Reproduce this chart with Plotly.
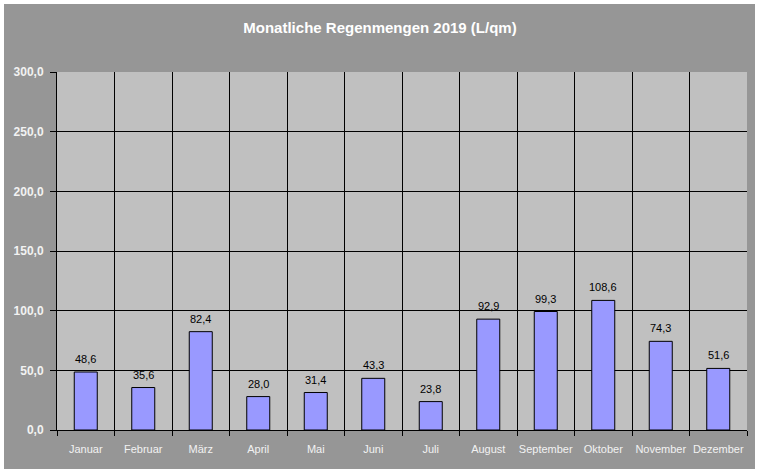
import plotly.graph_objects as go

months = ["Januar", "Februar", "März", "April", "Mai", "Juni", "Juli",
          "August", "September", "Oktober", "November", "Dezember"]
rain = [48.6, 35.6, 82.4, 28.0, 31.4, 43.3, 23.8, 92.9, 99.3, 108.6, 74.3, 51.6]
y_ticks = [0, 50, 100, 150, 200, 250, 300]
title_text = "Monatliche Regenmengen 2019 (L/qm)"

W, H = 760, 473
L, R, T, B = 57, 13, 72, 43
pw, ph = W - L - R, H - T - B

def px_x(x):
    return (x - L) / pw

def px_y(y):
    return (H - B - y) / ph

fig = go.Figure(go.Bar(
    x=months, y=rain, width=0.4,
    marker=dict(color="#9999FF", line=dict(color="black", width=1)),
    cliponaxis=False,
))

annotations = [
    dict(x=m, y=v, xref="x", yref="y", text=f"{v:.1f}".replace(".", ","),
         showarrow=False, yanchor="bottom", yshift=5,
         font=dict(family="Liberation Sans, Arial", size=11, color="black"))
    for m, v in zip(months, rain)
]

fig.update_layout(
    width=W, height=H,
    margin=dict(l=L, r=R, t=T, b=B, pad=0, autoexpand=False),
    paper_bgcolor="white",
    plot_bgcolor="rgba(0,0,0,0)",
    separators=",.",
    showlegend=False,
    annotations=annotations,
    title=dict(text="<b>" + title_text + "</b>", x=0.5, xref="container",
               xanchor="center", y=1 - 28 / H, yref="container", yanchor="middle",
               font=dict(family="Liberation Sans, Arial", size=15, color="white"),
               automargin=False),
    shapes=[
        dict(type="rect", xref="paper", yref="paper", layer="below",
             x0=px_x(4), x1=px_x(755), y0=px_y(469), y1=px_y(4),
             fillcolor="#969696", line=dict(width=0)),
        dict(type="rect", xref="paper", yref="paper", layer="below",
             x0=0, x1=1, y0=0, y1=1,
             fillcolor="#C0C0C0", line=dict(width=0)),
    ],
)

fig.update_xaxes(
    automargin=False, tickangle=0, ticklabelstandoff=9,
    tickson="boundaries", showgrid=True, gridcolor="black", gridwidth=1,
    ticks="outside", ticklen=5, tickcolor="black",
    showline=True, linecolor="black", linewidth=1,
    tickfont=dict(family="Liberation Sans, Arial", size=11, color="#F2F2F2"),
)
fig.update_yaxes(
    automargin=False, ticklabelstandoff=4,
    range=[0, 300], tickvals=y_ticks, tickformat=".1f",
    showgrid=True, gridcolor="black", gridwidth=1,
    ticks="outside", ticklen=6, tickcolor="black",
    showline=True, linecolor="black", linewidth=1,
    zeroline=False,
    tickfont=dict(family="Liberation Sans, Arial", size=12, color="#F2F2F2", weight="bold"),
)

fig.write_html("out.html", config={"displayModeBar": False},
               post_script="document.body.style.margin='0px';document.body.style.overflow='hidden';")
